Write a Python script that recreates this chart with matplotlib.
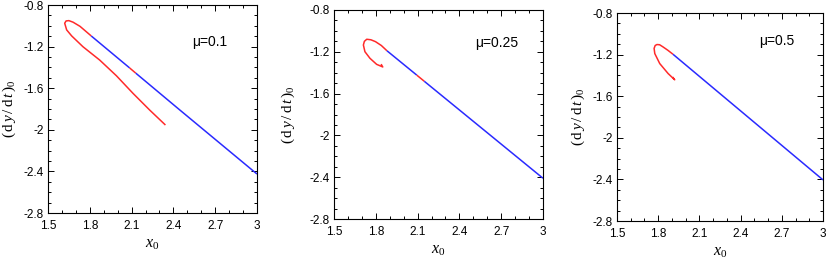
import matplotlib

matplotlib.use("Agg")
import matplotlib.pyplot as plt
from matplotlib.ticker import MultipleLocator

plt.rcParams["font.family"] = ["Liberation Sans", "DejaVu Sans"]
plt.rcParams["mathtext.fontset"] = "custom"
plt.rcParams["mathtext.rm"] = "Liberation Serif"
plt.rcParams["mathtext.it"] = "Liberation Serif:italic"

RED = "#ff2a2a"
BLUE = "#2a2aff"

MU_LABELS = ["\u03bc=0.1", "\u03bc=0.25", "\u03bc=0.5"]

X_TICKS = [1.5, 1.8, 2.1, 2.4, 2.7, 3.0]
X_TICK_LABELS = ["1.5", "1.8", "2.1", "2.4", "2.7", "3"]
Y_TICKS = [-2.8, -2.4, -2.0, -1.6, -1.2, -0.8]
Y_TICK_LABELS = ["-2.8", "-2.4", "-2", "-1.6", "-1.2", "-0.8"]

# mu = 0.1 : folded branch
P1_RED_A_X = [2.343, 2.230, 2.110, 1.991, 1.871, 1.751, 1.670, 1.634, 1.620, 1.630, 1.650, 1.680, 1.730, 1.811]
P1_RED_A_Y = [-1.954, -1.810, -1.649, -1.480, -1.329, -1.201, -1.097, -1.039, -0.975, -0.953, -0.950, -0.965, -1.005, -1.098]
P1_BLUE_A_X = [1.811, 2.086]
P1_BLUE_A_Y = [-1.098, -1.405]
P1_RED_B_X = [2.086, 2.130]
P1_RED_B_Y = [-1.405, -1.455]
P1_BLUE_B_X = [2.130, 2.445, 3.0]
P1_BLUE_B_Y = [-1.455, -1.808, -2.425]

# mu = 0.25 : spiral end
P2_RED_A_X = [1.838, 1.850, 1.806, 1.758, 1.722, 1.711, 1.718, 1.735, 1.765, 1.798, 1.840, 1.880]
P2_RED_A_Y = [-1.318, -1.345, -1.320, -1.262, -1.199, -1.135, -1.100, -1.080, -1.085, -1.103, -1.140, -1.190]
P2_BLUE_A_X = [1.880, 2.094]
P2_BLUE_A_Y = [-1.190, -1.423]
P2_RED_B_X = [2.094, 2.148]
P2_RED_B_Y = [-1.423, -1.482]
P2_BLUE_B_X = [2.148, 3.0]
P2_BLUE_B_Y = [-1.482, -2.410]

# mu = 0.5 : spiral end
P3_RED_A_X = [1.905, 1.920, 1.872, 1.811, 1.775, 1.770, 1.778, 1.791, 1.810, 1.835, 1.870, 1.908]
P3_RED_A_Y = [-1.415, -1.442, -1.382, -1.286, -1.190, -1.140, -1.112, -1.103, -1.105, -1.126, -1.158, -1.197]
P3_BLUE_X = [1.908, 3.0]
P3_BLUE_Y = [-1.197, -2.405]

PANELS = [
    [(P1_RED_A_X, P1_RED_A_Y, RED), (P1_BLUE_A_X, P1_BLUE_A_Y, BLUE),
     (P1_RED_B_X, P1_RED_B_Y, RED), (P1_BLUE_B_X, P1_BLUE_B_Y, BLUE)],
    [(P2_RED_A_X, P2_RED_A_Y, RED), (P2_BLUE_A_X, P2_BLUE_A_Y, BLUE),
     (P2_RED_B_X, P2_RED_B_Y, RED), (P2_BLUE_B_X, P2_BLUE_B_Y, BLUE)],
    [(P3_RED_A_X, P3_RED_A_Y, RED), (P3_BLUE_X, P3_BLUE_Y, BLUE)],
]

AX_RECTS = [
    [0.0578, 0.1776, 0.2518, 0.803],
    [0.4024, 0.1544, 0.2518, 0.807],
    [0.7434, 0.1467, 0.2482, 0.803],
]
LABEL_POS = [(0.69, 0.82), (0.675, 0.84), (0.69, 0.865)]
YLABEL_X = [-0.145, -0.177, -0.146]

YLABEL = r"$(\,\mathrm{d}\,y\,/\,\mathrm{d}\,t\,)_0$"


def main() -> None:
    fig = plt.figure(figsize=(8.3, 2.59), dpi=100)
    for rect, segments, mu, pos, ylx in zip(AX_RECTS, PANELS, MU_LABELS, LABEL_POS, YLABEL_X):
        ax = fig.add_axes(rect)
        for xs, ys, color in segments:
            ax.plot(xs, ys, color=color, linewidth=1.1, solid_capstyle="butt")
        ax.set_xlim(1.5, 3.0)
        ax.set_ylim(-2.8, -0.8)
        ax.set_xticks(X_TICKS)
        ax.set_xticklabels(X_TICK_LABELS)
        ax.set_yticks(Y_TICKS)
        ax.set_yticklabels(Y_TICK_LABELS)
        ax.xaxis.set_minor_locator(MultipleLocator(0.1))
        ax.yaxis.set_minor_locator(MultipleLocator(0.1))
        ax.tick_params(which="both", direction="in", top=True, right=True,
                       labelsize=8.5, width=0.7)
        ax.tick_params(axis="x", pad=5)
        ax.tick_params(axis="y", pad=3)
        ax.tick_params(which="major", length=4)
        ax.tick_params(which="minor", length=2.2)
        for spine in ax.spines.values():
            spine.set_linewidth(0.8)
        ax.set_xlabel(r"$x_0$", fontsize=11.5)
        ax.set_ylabel(YLABEL, fontsize=11)
        ax.xaxis.set_label_coords(0.5, -0.115)
        ax.xaxis.label.set_va("top")
        ax.yaxis.set_label_coords(ylx, 0.5)
        ax.text(pos[0], pos[1], mu, transform=ax.transAxes, fontsize=10,
                ha="left", va="center")
    fig.savefig("out.png", dpi=100)
    plt.close(fig)


if __name__ == "__main__":
    main()
